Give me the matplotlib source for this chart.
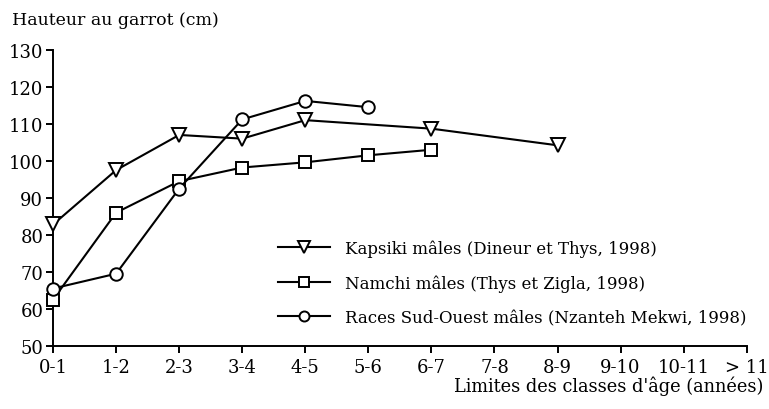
import matplotlib
matplotlib.use("Agg")
import matplotlib.pyplot as plt

classes = ["0-1", "1-2", "2-3", "3-4", "4-5", "5-6", "6-7", "7-8", "8-9", "9-10", "10-11", "> 11"]

# Kapsiki males (classes 0-1 .. 4-5, 6-7, 8-9)
kapsiki_x = [0, 1, 2, 3, 4, 6, 8]
kapsiki_y = [82.8, 97.5, 107, 106, 111, 108.7, 104.2]

# Namchi males
namchi_x = [0, 1, 2, 3, 4, 5, 6]
namchi_y = [62.5, 86, 94.5, 98.2, 99.6, 101.5, 103]

# Races Sud-Ouest males
sudouest_x = [0, 1, 2, 3, 4, 5]
sudouest_y = [65.5, 69.5, 92.5, 111.2, 116.2, 114.5]

plt.rcParams['font.family'] = ['DejaVu Serif']

fig = plt.figure(figsize=(7.69, 4.10), dpi=100)
ax = fig.add_axes([0.069, 0.154, 0.902, 0.722])

common = dict(color='black', lw=1.5, markerfacecolor='white', markeredgecolor='black',
              markeredgewidth=1.4, clip_on=False, zorder=3)
ax.plot(kapsiki_x, kapsiki_y, marker='v', ms=10,
        label="Kapsiki mâles (Dineur et Thys, 1998)", **common)
ax.plot(namchi_x, namchi_y, marker='s', ms=8.5,
        label="Namchi mâles (Thys et Zigla, 1998)", **common)
ax.plot(sudouest_x, sudouest_y, marker='o', ms=9,
        label="Races Sud-Ouest mâles (Nzanteh Mekwi, 1998)", **common)

ax.set_xlim(0, 11)
ax.set_ylim(50, 130)
ax.set_xticks(range(len(classes)))
ax.set_xticklabels(classes)
ax.set_yticks(range(50, 131, 10))
for s in ['top', 'right']:
    ax.spines[s].set_visible(False)
for s in ['left', 'bottom']:
    ax.spines[s].set_linewidth(1.4)
ax.tick_params(axis='both', direction='out', length=5, width=1.4, labelsize=13)
ax.tick_params(axis='y', pad=2)
ax.tick_params(axis='x', pad=4)

fig.text(0.015, 0.97, "Hauteur au garrot (cm)", fontsize=12.5, ha='left', va='top')
fig.text(0.993, 0.035, "Limites des classes d'âge (années)", fontsize=12.8, ha='right', va='bottom')

ax.legend(loc='upper left', bbox_to_anchor=(0.325, 0.36), frameon=False, fontsize=12,
          handlelength=3.1, handletextpad=0.9, labelspacing=1.05, borderaxespad=0,
          borderpad=0, markerscale=0.8)

fig.savefig("out.png", dpi=100)
